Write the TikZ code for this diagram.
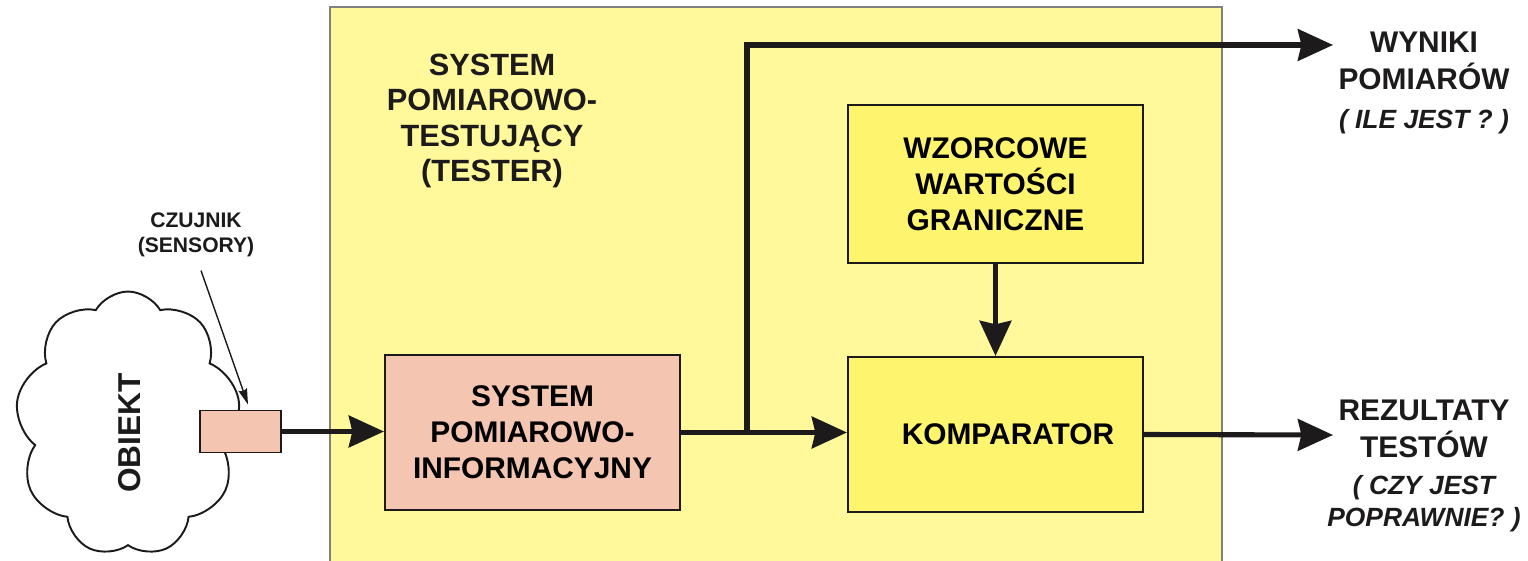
\documentclass[tikz,border=0pt]{standalone}
\usepackage{fontspec}
\setmainfont{Liberation Sans}
\usetikzlibrary{arrows.meta, shapes.symbols}

\definecolor{testerbg}{HTML}{FFF99C}
\definecolor{blockyellow}{HTML}{FFF46E}
\definecolor{blockpink}{HTML}{F4C5B0}
\definecolor{inkdark}{HTML}{1C1A1A}

\begin{document}
\begin{tikzpicture}[x=0.02cm, y=-0.02cm, font=\bfseries,
  block/.style={draw=inkdark, line width=1.2pt, align=center, inner sep=0pt,
                minimum width=5.9cm, minimum height=3.1cm,
                font=\bfseries\fontsize{17}{20.5}\selectfont},
  flow/.style={draw=inkdark, line width=2.9pt,
               -{Stealth[length=20pt, width=18pt, inset=2pt]}},
  pointer/.style={draw=inkdark, line width=0.8pt,
                  -{Stealth[length=9pt, width=5pt, inset=1pt]}},
  outlabel/.style={align=center, text=inkdark, inner sep=0pt,
                   font=\bfseries\fontsize{17}{21}\selectfont}]

\useasboundingbox (0,0) rectangle (1528,561);

% ========================================================= the tester frame
\draw[fill=testerbg, draw=black!50, line width=0.6pt] (330,7) rectangle (1222,570);
\node[align=center, text=inkdark, font=\bfseries\fontsize{17.5}{20}\selectfont]
  (title) at (492,121) {SYSTEM\\POMIAROWO-\\TESTUJĄCY\\(TESTER)};

% ================================================================ the object
\node[cloud, cloud puffs=9, cloud puff arc=120, aspect=0.85, draw=inkdark,
      line width=1.1pt, fill=white, minimum width=4.5cm, minimum height=5.3cm]
  (obiekt) at (128,424) {};
\node[rotate=90, text=inkdark, font=\bfseries\fontsize{18}{20}\selectfont]
  (obiektlabel) at (130,433) {OBIEKT};

% Sensor sits on the edge of the cloud, so it is drawn after it.
\node[draw=inkdark, line width=1.1pt, fill=blockpink, inner sep=0pt,
      minimum width=1.62cm, minimum height=0.84cm] (sensor) at (240.5,431.5) {};
\node[align=center, text=inkdark, font=\bfseries\fontsize{12}{14}\selectfont]
  (czujnik) at (196,235) {CZUJNIK\\(SENSORY)};
\draw[pointer] ([xshift=0.1cm, yshift=-0.15cm]czujnik.south)
  -- ([xshift=0.15cm, yshift=0.1cm]sensor.north);

% ==================================================================== blocks
\node[block, fill=blockpink] (spi) at (532.5,432.5)
  {SYSTEM\\POMIAROWO-\\INFORMACYJNY};
\node[block, fill=blockyellow] (komparator) at (995.5,434.5)
  {\hspace*{0.5cm}KOMPARATOR};
\node[block, fill=blockyellow, minimum height=3.16cm] (wzorce) at (995.5,184)
  {WZORCOWE\\WARTOŚCI\\GRANICZNE};

% ===================================================================== flows
\coordinate (split) at (747,433);
\coordinate (wynikiend) at (1333,45);
\coordinate (rezend) at (1333,435);

\draw[flow] (sensor.east) -- (spi.west |- sensor.east);
\draw[flow] (spi.east) -- (komparator.west |- spi.east);
\draw[flow] (split) |- (wynikiend);
\draw[flow] (wzorce.south) -- (komparator.north);
\draw[flow] (komparator.east) -- (rezend);

% ==================================================================== outputs
\node[outlabel] (wyniki) at (1424,83)
  {WYNIKI\\POMIARÓW\\[1pt]{\fontsize{15}{17}\selectfont\itshape ( ILE JEST ? )}};
\node[outlabel] (rezultaty) at (1424,466)
  {REZULTATY\\TESTÓW\\[0pt]{\fontsize{15}{17}\selectfont\itshape ( CZY JEST}\\[-3pt]
   {\fontsize{15}{17}\selectfont\itshape POPRAWNIE? )}};

\end{tikzpicture}
\end{document}
